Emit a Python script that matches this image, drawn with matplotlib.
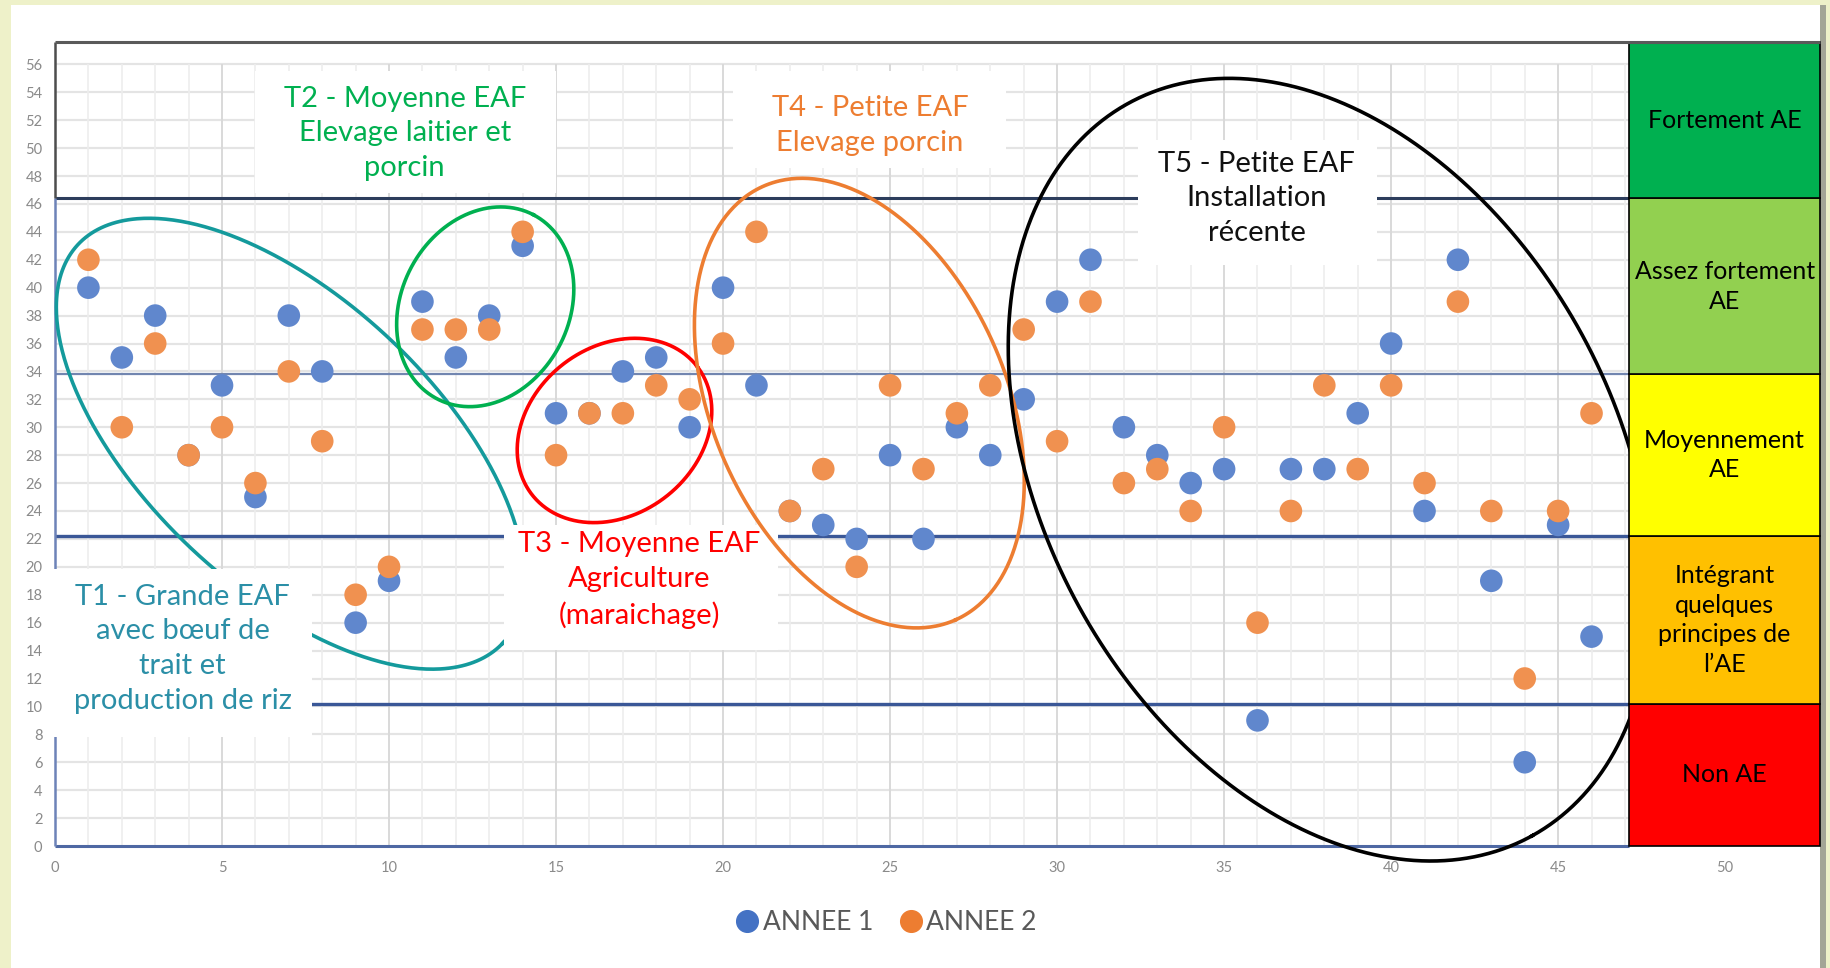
import numpy as np
import matplotlib.pyplot as plt
from matplotlib.patches import Rectangle
from matplotlib.lines import Line2D

plt.rcParams['font.family'] = ['Lato', 'DejaVu Sans']

# scores des 46 exploitations, deux années de suivi
exploitations = np.arange(1, 47)
annee1 = [40, 35, 38, 28, 33, 25, 38, 34, 16, 19,
          39, 35, 38, 43, 31, 31, 34, 35, 30, 40,
          33, 24, 23, 22, 28, 22, 30, 28, 32, 39,
          42, 30, 28, 26, 27, 9, 27, 27, 31, 36,
          24, 42, 19, 6, 23, 15]
annee2 = [42, 30, 36, 28, 30, 26, 34, 29, 18, 20,
          37, 37, 37, 44, 28, 31, 31, 33, 32, 36,
          44, 24, 27, 20, 33, 27, 31, 33, 37, 29,
          39, 26, 27, 24, 30, 16, 24, 33, 27, 33,
          26, 39, 24, 12, 24, 31]

# niveaux d'agroécologie (bornes en score)
seuils = [0, 10.2, 22.2, 33.8, 46.4, 57.6]
niveaux = ['Non AE', 'Intégrant\nquelques\nprincipes de\nl’AE',
           'Moyennement\nAE', 'Assez fortement\nAE', 'Fortement AE']
couleurs_niveaux = ['#FF0000', '#FFC000', '#FFFF00', '#92D050', '#00B050']

# typologies
typo_textes = ['T1 - Grande EAF\navec bœuf de\ntrait et\nproduction de riz',
               'T2 - Moyenne EAF\nElevage laitier et\nporcin',
               'T3 - Moyenne EAF\nAgriculture\n(maraichage)',
               'T4 - Petite EAF\nElevage porcin',
               'T5 - Petite EAF\nInstallation\nrécente']
typo_couleurs = ['#2B8FA7', '#00B050', '#FF0000', '#ED7D31', '#111111']
typo_traits = ['#149A9C', '#00B050', '#FF0000', '#ED7D31', '#000000']
# position du texte, cadre blanc (x0, y0, x1, y1), ellipse (cx, cy, a, b, angle)
typo_pos = [(3.82, 14.13), (10.47, 51.05), (17.5, 19.03), (24.4, 51.6), (35.98, 46.4)]
typo_cadres = [(-0.25, 7.83, 7.69, 19.82), (6.0, 46.8, 15.0, 55.5),
               (13.44, 14.04, 21.63, 23.0), (20.3, 48.6, 28.46, 55.5),
               (32.43, 41.6, 39.57, 50.6)]
typo_ellipses = [(7.05, 28.82, 8.72, 4.32, -43.2), (12.88, 38.63, 3.11, 2.51, 62.2),
                 (16.75, 29.77, 3.13, 2.51, 37.8), (24.08, 31.73, 7.10, 4.39, -66.1),
                 (38.17, 26.96, 12.52, 8.56, -61.1)]

W, H = 1831, 968
fig = plt.figure(figsize=(W / 100, H / 100), dpi=100)
fig.patch.set_facecolor('#EEF1C9')
fig.add_artist(Rectangle((1820 / W, 0), 6 / W, 963 / H, transform=fig.transFigure,
                         facecolor='#A3A596', edgecolor='none', zorder=-2))
fig.add_artist(Rectangle((11 / W, 0), 1809 / W, 963 / H, transform=fig.transFigure,
                         facecolor='white', edgecolor='none', zorder=-1))

left, right, bottom, top = 55, 1820, 846, 42
ax = fig.add_axes([left / W, 1 - bottom / H, (right - left) / W, (bottom - top) / H])
xmax, ymax = 52.84, seuils[-1]
xcol = 47.13
ax.set_xlim(0, xmax)
ax.set_ylim(0, ymax)
for s in ax.spines.values():
    s.set_visible(False)

# rapport d'échelle y/x en pixels, pour des ellipses non déformées
ratio = ((bottom - top) / ymax) / ((right - left) / xmax)

# grille
ax.hlines(np.arange(2, 57, 2), 0, xcol, colors='#E4E4E4', lw=1.6, zorder=0.5)
ax.vlines([x for x in range(1, 48) if x % 5], 0, 56, colors='#EDEDED', lw=1.2, zorder=0.5)
ax.vlines(range(5, 47, 5), 0, 56, colors='#D9D9D9', lw=1.4, zorder=0.6)

# seuils entre niveaux
ax.hlines(seuils[1:5], 0, xcol, colors=['#3a5797', '#3a5797', '#7286b0', '#2c3d5c'],
          lw=[2.4, 2.4, 1.6, 2.2], zorder=1.5)
ax.hlines(0, 0, xcol, color='#4e68a3', lw=2.2, zorder=1.6, clip_on=False)
ax.vlines(0, 0, seuils[4], color='#6d83b8', lw=1.8, zorder=1.6, clip_on=False)
ax.vlines(0, seuils[4], ymax, color='#4d4d4d', lw=1.8, zorder=1.6, clip_on=False)
ax.hlines(ymax, 0, xmax, color='#5a5a5a', lw=2.2, zorder=8, clip_on=False)

ax.set_xticks(range(0, 51, 5))
ax.set_yticks(range(0, 57, 2))
ax.tick_params(length=0, labelsize=10.5, labelcolor='#8a8a8a')
ax.tick_params(axis='y', pad=9)
ax.tick_params(axis='x', pad=11)

bleu, orange = '#6087CD', '#F09150'
ax.scatter(exploitations, annee1, s=265, color=bleu, edgecolors='none', zorder=3)
ax.scatter(exploitations, annee2, s=265, color=orange, edgecolors='none', zorder=3.1)

t = np.linspace(0, 2 * np.pi, 500)
for i in range(5):
    x0, y0, x1, y1 = typo_cadres[i]
    ax.add_patch(Rectangle((x0, y0), x1 - x0, y1 - y0, facecolor='white',
                           edgecolor='none', zorder=4, clip_on=False))
    ax.text(*typo_pos[i], typo_textes[i], color=typo_couleurs[i], fontsize=21,
            ha='center', va='center', linespacing=1.42, zorder=4.5)
    cx, cy, a, b, ang = typo_ellipses[i]
    th = np.radians(ang)
    u = a * np.cos(t) * np.cos(th) - b * np.sin(t) * np.sin(th)
    v = a * np.cos(t) * np.sin(th) + b * np.sin(t) * np.cos(th)
    ax.plot(cx + u, cy + v / ratio, color=typo_traits[i], lw=2.6,
            zorder=3.5 if i == 0 else 5, clip_on=False)

# colonne des niveaux
for lo, hi, lab, col in zip(seuils[:-1], seuils[1:], niveaux, couleurs_niveaux):
    ax.add_patch(Rectangle((xcol, lo), xmax - xcol, hi - lo, facecolor=col,
                           edgecolor='black', lw=1.2, zorder=6, clip_on=False))
    ax.text((xcol + xmax) / 2, (lo + hi) / 2, lab, fontsize=18, color='black',
            ha='center', va='center', linespacing=1.35, zorder=7)

handles = [Line2D([], [], ls='', marker='o', markersize=15.6, color='#4472C4'),
           Line2D([], [], ls='', marker='o', markersize=15.6, color='#ED7D31')]
fig.legend(handles, ['ANNEE 1', 'ANNEE 2'], loc='center', bbox_to_anchor=(0.4844, 0.047),
           ncol=2, frameon=False, fontsize=19, labelcolor='#595959',
           handletextpad=0.2, columnspacing=1.0, handlelength=0.8)

fig.savefig('out.png', dpi=100, facecolor=fig.get_facecolor())
